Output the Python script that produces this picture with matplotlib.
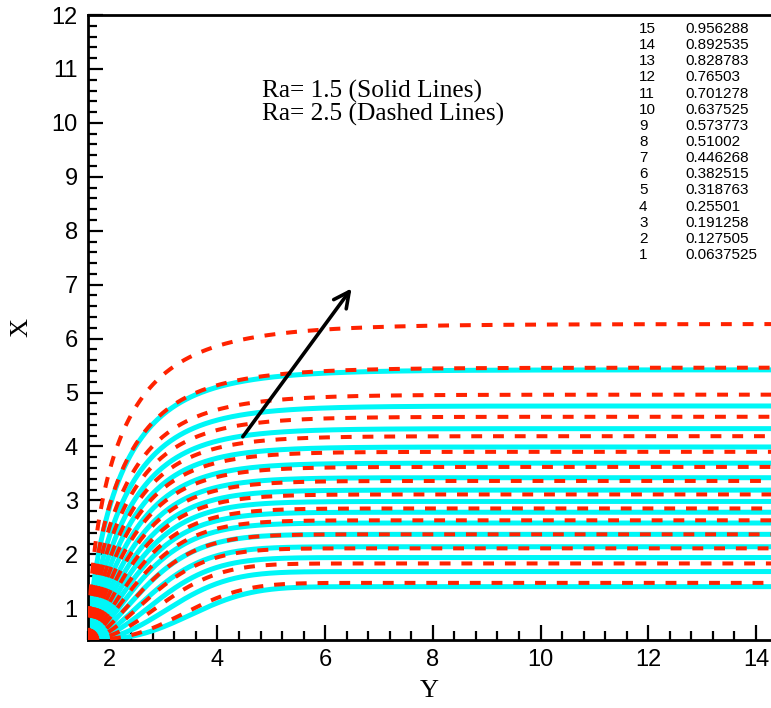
import numpy as np
import matplotlib
matplotlib.use("Agg")
import matplotlib.pyplot as plt

# Isoline levels listed in the key (index, value)
level_ids = [15, 14, 13, 12, 11, 10, 9, 8, 7, 6, 5, 4, 3, 2, 1]
level_vals = ["0.956288", "0.892535", "0.828783", "0.76503", "0.701278",
              "0.637525", "0.573773", "0.51002", "0.446268", "0.382515",
              "0.318763", "0.25501", "0.191258", "0.127505", "0.0637525"]

# Far-field height (X) reached by each isoline, level 1 -> level 15
ra15_heights = [5.42, 4.75, 4.33, 3.99, 3.69, 3.42, 3.19, 2.98, 2.78,
                2.58, 2.37, 2.14, 1.94, 1.68, 1.40]   # Ra = 1.5, solid
ra25_heights = [6.27, 5.46, 4.96, 4.55, 4.19, 3.90, 3.62, 3.36, 3.11,
                2.85, 2.63, 2.37, 2.11, 1.83, 1.47]   # Ra = 2.5, dashed

# Arrow marking the growth direction with Ra
arrow_tail = (4.47, 4.18)
arrow_head = (6.49, 6.93)

Y0, X0 = 1.6, 0.42          # corner the isolines emanate from
YMIN, YMAX = 1.586, 14.28
XMIN, XMAX = 0.42, 12.0


def isoline(height):
    """Isoline rising from the corner and levelling off at `height`."""
    v = height - X0
    k = (5.86 / v) ** 0.76
    p, w = 0.69 * k, 0.58 * k
    u = np.concatenate([np.geomspace(1e-4, 1.0, 300),
                        np.linspace(1.0, YMAX - Y0, 400)[1:]])
    return Y0 + u, X0 + v * (1.0 - np.exp(-(u / w) ** p))


fig = plt.figure(figsize=(7.71, 7.08), dpi=100)
ax = fig.add_axes([87.5 / 771, 1 - 639.5 / 708, 1 - 87.5 / 771, (639.5 - 15) / 708])

for h in ra15_heights:
    yy, xx = isoline(h)
    ax.plot(yy, xx, color="#00f7f7", lw=3.6, solid_capstyle="butt", zorder=2)
for h in ra25_heights:
    yy, xx = isoline(h)
    ax.plot(yy, xx, color="#ff2200", lw=2.9, ls=(0, (2.7, 2.7)),
            dash_capstyle="butt", zorder=3)

ax.annotate("", xy=arrow_head, xytext=arrow_tail,
            arrowprops=dict(arrowstyle="->", lw=2.6, color="black",
                            mutation_scale=28, shrinkA=0, shrinkB=0), zorder=5)

ax.set_xlim(YMIN, YMAX)
ax.set_ylim(XMIN, XMAX)
ax.set_xticks(np.arange(2, 15, 2))
ax.set_xticks(np.arange(1.6, 14.3, 0.4), minor=True)
ax.set_yticks(np.arange(1, 13, 1))
ax.set_yticks(np.arange(0.6, 12.01, 0.2), minor=True)

for side in ["left", "bottom", "top"]:
    ax.spines[side].set_linewidth(2.0)
ax.spines["right"].set_visible(False)
ax.tick_params(which="both", direction="in", width=1.6, top=False, right=False,
               labelsize=17)
ax.tick_params(which="major", length=11, pad=7)
ax.tick_params(which="minor", length=6.5)
for lab in ax.get_xticklabels() + ax.get_yticklabels():
    lab.set_fontfamily("Liberation Sans")

ax.set_xlabel("Y", fontfamily="Liberation Serif", fontsize=19, labelpad=6)
ax.set_ylabel("X", fontfamily="Liberation Serif", fontsize=19)
ax.yaxis.set_label_coords(-0.08, 0.5)

fig.text(262 / 771, 1 - 98 / 708, "Ra= 1.5 (Solid Lines)",
         fontfamily="Liberation Serif", fontsize=18.3, va="baseline")
fig.text(262 / 771, 1 - 121 / 708, "Ra= 2.5 (Dashed Lines)",
         fontfamily="Liberation Serif", fontsize=18.3, va="baseline")

for i, (lid, val) in enumerate(zip(level_ids, level_vals)):
    yc = 1 - (29 + i * 16.14) / 708
    fig.text(639 / 771, yc, str(lid), fontfamily="Liberation Sans",
             fontsize=11, va="center", ha="left")
    fig.text(685 / 771, yc, val, fontfamily="Liberation Sans",
             fontsize=11, va="center", ha="left")

fig.savefig("out.png", dpi=100)
